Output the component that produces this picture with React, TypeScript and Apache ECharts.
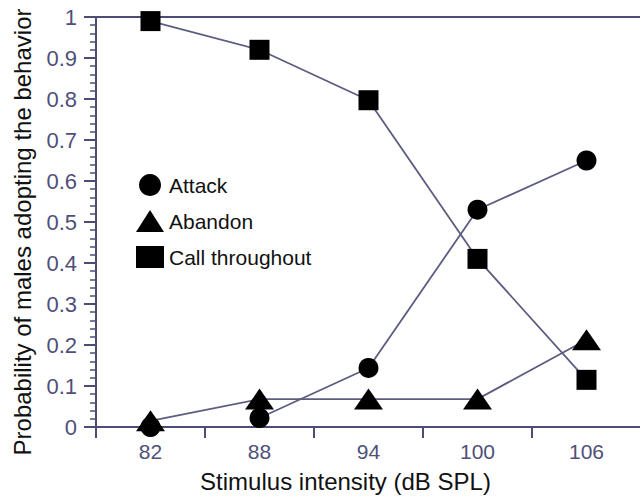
import React, { useEffect, useRef } from "react";
import * as echarts from "echarts";

const categories = ["82", "88", "94", "100", "106"];
const attack = [0, 0.022, 0.144, 0.53, 0.65];
const attackLine = ["-", 0.022, 0.144, 0.53, 0.65];
const abandon = [0.015, 0.068, 0.068, 0.068, 0.213];
const callThroughout = [0.99, 0.92, 0.797, 0.41, 0.115];

const AXIS = "#4c4c76";
const LABEL = "#4f4f7a";
const LINE = "#5c5c80";
const FONT = "Liberation Sans, Arial, sans-serif";

export default function App() {
  const ref = useRef<HTMLDivElement>(null);
  useEffect(() => {
    if (!ref.current) return;
    const chart = echarts.init(ref.current, undefined, { renderer: "svg" });
    chart.setOption({
      animation: false,
      backgroundColor: "#ffffff",
      textStyle: { fontFamily: FONT },
      grid: { left: 96, right: -1, top: 17, bottom: 73, containLabel: false, outerBoundsMode: "none" },
      legend: {
        orient: "vertical",
        left: 131,
        top: 169,
        itemWidth: 28,
        itemHeight: 22,
        itemGap: 14,
        textStyle: { fontSize: 21, color: "#111", fontFamily: FONT, padding: [0, 0, 0, 0] },
        data: [
          { name: "Attack", icon: "circle" },
          { name: "Abandon", icon: "triangle" },
          { name: "Call throughout", icon: "rect" },
        ],
      },
      xAxis: [
        {
          type: "category",
          data: categories,
          boundaryGap: true,
          axisLine: { show: true, lineStyle: { color: AXIS, width: 2 } },
          axisTick: { show: true, interval: 0, length: 11, lineStyle: { color: AXIS, width: 2 } },
          axisLabel: { fontSize: 21, color: LABEL, margin: 14, interval: 0, fontFamily: FONT },
          name: "Stimulus intensity (dB SPL)",
          nameLocation: "middle",
          nameGap: 42,
          nameTextStyle: { fontSize: 24, color: "#111", fontFamily: FONT, padding: [0, 46, 0, 0] },
        },
        {
          type: "category",
          position: "top",
          data: categories,
          axisLine: { show: true, lineStyle: { color: AXIS, width: 2 } },
          axisTick: { show: false },
          axisLabel: { show: false },
        },
      ],
      yAxis: {
        type: "value",
        min: 0,
        max: 1,
        interval: 0.1,
        axisLine: { show: true, lineStyle: { color: AXIS, width: 2 } },
        axisTick: { show: true, length: 12, lineStyle: { color: AXIS, width: 2 } },
        minorTick: { show: true, splitNumber: 5, length: 6, lineStyle: { color: AXIS, width: 1.5 } },
        splitLine: { show: false },
        axisLabel: { fontSize: 22, color: LABEL, margin: 19, fontFamily: FONT },
        name: "Probability of males adopting the behavior",
        nameLocation: "middle",
        nameGap: 62,
        nameRotate: 90,
        nameTextStyle: { fontSize: 24, color: "#111", fontFamily: FONT, padding: [0, 20, 0, 0] },
      },
      series: [
        {
          name: "attack-line",
          type: "line",
          data: attackLine,
          showSymbol: false,
          silent: true,
          lineStyle: { color: LINE, width: 1.8 },
          z: 2,
        },
        {
          name: "abandon-line",
          type: "line",
          data: abandon,
          showSymbol: false,
          silent: true,
          lineStyle: { color: LINE, width: 1.8 },
          z: 2,
        },
        {
          name: "call-line",
          type: "line",
          data: callThroughout,
          showSymbol: false,
          silent: true,
          lineStyle: { color: LINE, width: 1.8 },
          z: 2,
        },
        {
          name: "Attack",
          type: "scatter",
          data: attack,
          symbol: "circle",
          symbolSize: 20,
          itemStyle: { color: "#000", opacity: 1 },
          z: 3,
        },
        {
          name: "Abandon",
          type: "scatter",
          data: abandon,
          symbol: "triangle",
          symbolSize: [29, 21],
          itemStyle: { color: "#000", opacity: 1 },
          z: 3,
        },
        {
          name: "Call throughout",
          type: "scatter",
          data: callThroughout,
          symbol: "rect",
          symbolSize: 20,
          itemStyle: { color: "#000", opacity: 1 },
          z: 3,
        },
      ],
    });
    return () => chart.dispose();
  }, []);
  return <div ref={ref} style={{ width: 640, height: 500, position: "absolute", left: 0, top: 0 }} />;
}
